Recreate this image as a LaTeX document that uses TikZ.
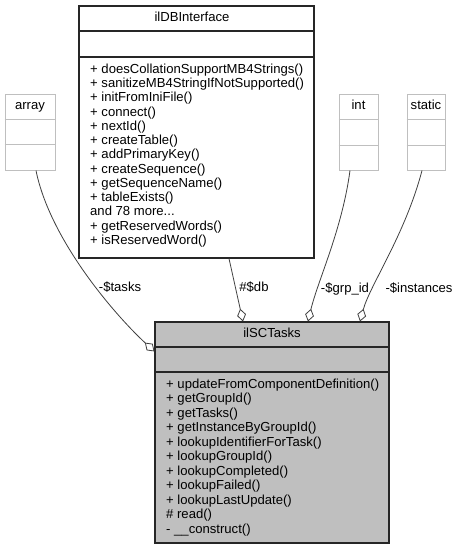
\documentclass[tikz,border=0pt]{standalone}
\usepackage{fontspec}
\setmainfont{Liberation Sans}
\usetikzlibrary{arrows.meta}
\definecolor{boxgray}{HTML}{BFBFBF}
\definecolor{edgegray}{HTML}{404040}
\definecolor{classfill}{HTML}{BFBFBF}
\begin{document}
\begin{tikzpicture}[x=1pt,y=-1pt,
  txt/.style={font=\fontsize{13.1}{14.4}\selectfont, inner sep=0pt, text height=9.4pt, text depth=2.8pt},
  member/.style={txt, anchor=west},
  ctitle/.style={txt, anchor=center},
  classbox/.style={draw=black!85, line width=1.1pt, inner sep=0pt, rectangle},
  leafbox/.style={draw=boxgray, line width=1pt, inner sep=0pt, rectangle},
  classline/.style={draw=black!85, line width=1.1pt},
  leafline/.style={draw=boxgray, line width=1pt},
  comp/.style={draw=edgegray, line width=0.8pt, -{Diamond[open,length=13pt,width=9pt]}},
  lbl/.style={txt, anchor=center}]
\fill[white] (0,0) rectangle (467,551);
\useasboundingbox (0,0) rectangle (467,551);

% leaf boxes
\node[leafbox, minimum width=50pt, minimum height=76pt] (array) at (30,132) {};
\draw[leafline] (array.west |- 0,119) -- (array.east |- 0,119);
\draw[leafline] (array.west |- 0,144) -- (array.east |- 0,144);
\node[ctitle] (arrayt) at (30,106.5) {array};

\node[leafbox, minimum width=39pt, minimum height=76pt] (int) at (358.5,132) {};
\draw[leafline] (int.west |- 0,119) -- (int.east |- 0,119);
\draw[leafline] (int.west |- 0,145) -- (int.east |- 0,145);
\node[ctitle] (intt) at (358.5,106.5) {int};

\node[leafbox, minimum width=38pt, minimum height=76pt] (static) at (426,132) {};
\draw[leafline] (static.west |- 0,119) -- (static.east |- 0,119);
\draw[leafline] (static.west |- 0,145) -- (static.east |- 0,145);
\node[ctitle] (statict) at (426,106.5) {static};

% ilDBInterface
\node[classbox, fill=white, minimum width=235pt, minimum height=252pt] (db) at (196.5,132) {};
\draw[classline] (db.west |- 0,31) -- (db.east |- 0,31);
\draw[classline] (db.west |- 0,57) -- (db.east |- 0,57);
\node[ctitle] (dbt) at (192,18.5) {ilDBInterface};
\node[member] (db1) at (90,70) {+ doesCollationSupportMB4Strings()};
\node[member] (db2) at (90,84.25) {+ sanitizeMB4StringIfNotSupported()};
\node[member] (db3) at (90,98.5) {+ initFromIniFile()};
\node[member] (db4) at (90,112.75) {+ connect()};
\node[member] (db5) at (90,127) {+ nextId()};
\node[member] (db6) at (90,141.25) {+ createTable()};
\node[member] (db7) at (90,155.5) {+ addPrimaryKey()};
\node[member] (db8) at (90,169.75) {+ createSequence()};
\node[member] (db9) at (90,184) {+ getSequenceName()};
\node[member] (db10) at (90,198.25) {+ tableExists()};
\node[member] (db11) at (90,212.5) {and 78 more...};
\node[member] (db12) at (90,226.75) {+ getReservedWords()};
\node[member] (db13) at (90,241) {+ isReservedWord()};

% ilSCTasks
\node[classbox, fill=classfill, minimum width=234pt, minimum height=221pt] (tasks) at (272,432.5) {};
\draw[classline] (tasks.west |- 0,347) -- (tasks.east |- 0,347);
\draw[classline] (tasks.west |- 0,372) -- (tasks.east |- 0,372);
\node[ctitle] (taskst) at (272,334.5) {ilSCTasks};
\node[member] (t1) at (166,385) {+ updateFromComponentDefinition()};
\node[member] (t2) at (166,399.5) {+ getGroupId()};
\node[member] (t3) at (166,414) {+ getTasks()};
\node[member] (t4) at (166,428.5) {+ getInstanceByGroupId()};
\node[member] (t5) at (166,443) {+ lookupIdentifierForTask()};
\node[member] (t6) at (166,457.5) {+ lookupGroupId()};
\node[member] (t7) at (166,472) {+ lookupCompleted()};
\node[member] (t8) at (166,486.5) {+ lookupFailed()};
\node[member] (t9) at (166,501) {+ lookupLastUpdate()};
\node[member] (t10) at (166,515.5) {\# read()};
\node[member] (t11) at (166,530) {- \_\_construct()};

% connectors
\draw[comp] ([xshift=6pt]array.south) .. controls (50,240) and (115,315) .. ([yshift=-30pt]tasks.north west);
\draw[comp] ([xshift=32.5pt]db.south) -- ([xshift=-29pt]tasks.north);
\draw[comp] ([xshift=-8.5pt]int.south) .. controls (342,230) and (318,280) .. ([xshift=36pt]tasks.north);
\draw[comp] ([xshift=-4pt]static.south) .. controls (405,235) and (370,285) .. ([xshift=88pt]tasks.north);

% labels
\node[lbl] (ltasks) at (120,288) {-\$tasks};
\node[lbl] (ldb) at (254,288) {\#\$db};
\node[lbl] (lgrp) at (345,289) {-\$grp\_id};
\node[lbl] (linst) at (419,289) {-\$instances};
\end{tikzpicture}
\end{document}
